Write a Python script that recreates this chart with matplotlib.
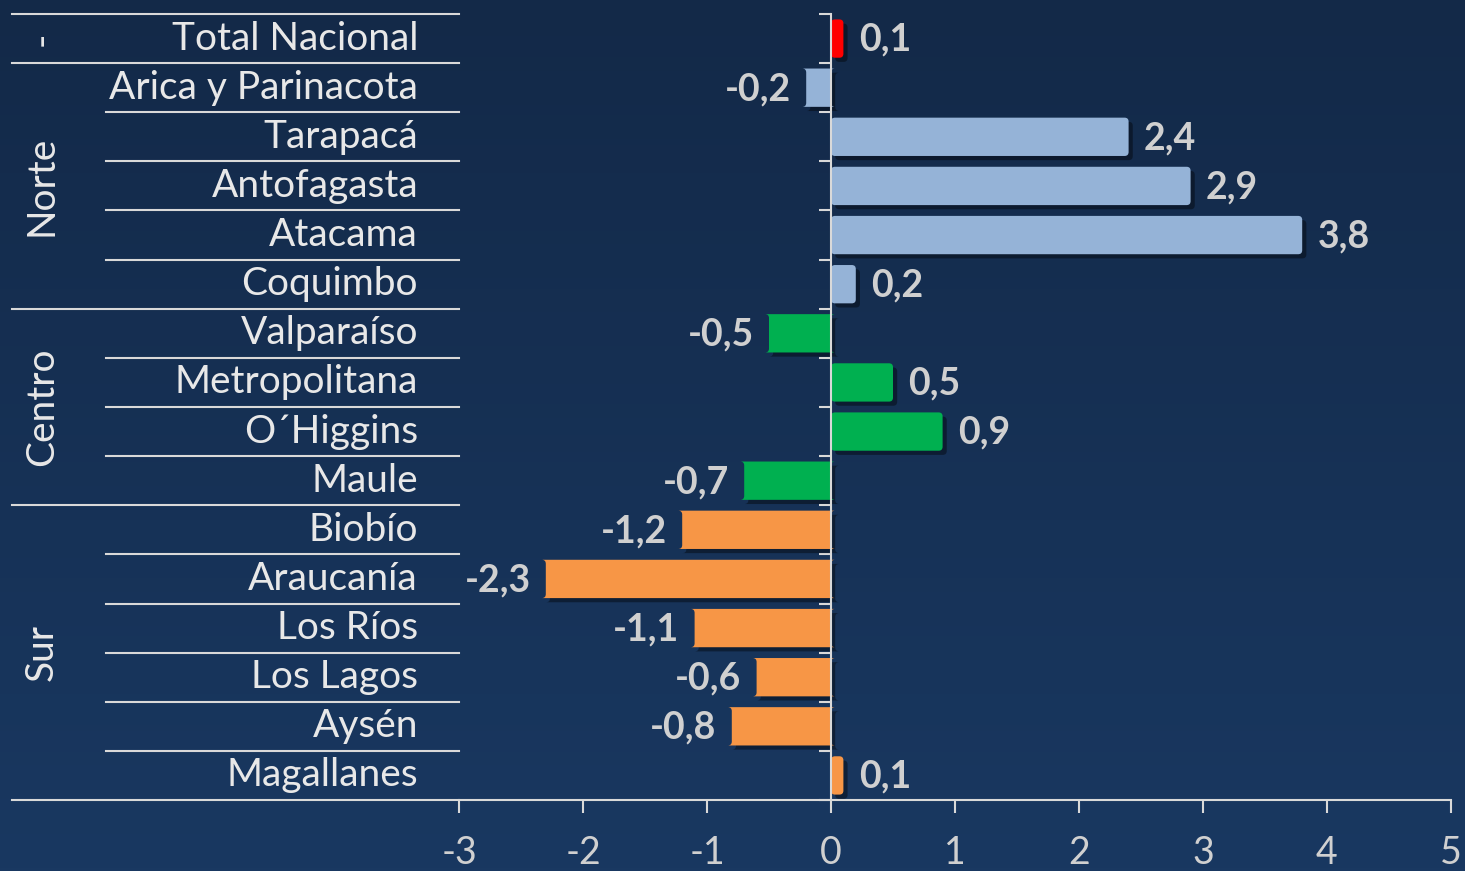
import numpy as np
import matplotlib.pyplot as plt
import matplotlib.patheffects as pe
from matplotlib.patches import FancyBboxPatch
from matplotlib.transforms import blended_transform_factory

plt.rcParams['font.family'] = ['Lato', 'DejaVu Sans']

# datos: variacion por region
regiones = ['Total Nacional', 'Arica y Parinacota', 'Tarapacá', 'Antofagasta',
            'Atacama', 'Coquimbo', 'Valparaíso', 'Metropolitana', 'O´Higgins',
            'Maule', 'Biobío', 'Araucanía', 'Los Ríos', 'Los Lagos', 'Aysén',
            'Magallanes']
valores = [0.1, -0.2, 2.4, 2.9, 3.8, 0.2, -0.5, 0.5, 0.9, -0.7,
           -1.2, -2.3, -1.1, -0.6, -0.8, 0.1]
zonas = ['-', 'Norte', 'Centro', 'Sur']
zona_n = [1, 5, 4, 6]
zona_color = ['#FF0000', '#95B3D7', '#00B050', '#F79646']
xticks = [-3, -2, -1, 0, 1, 2, 3, 4, 5]

W, H = 1465, 871
fig = plt.figure(figsize=(W / 100, H / 100), dpi=100)

# fondo degradado
bg = fig.add_axes([0, 0, 1, 1], zorder=-1)
grad = np.linspace(0, 1, 256).reshape(-1, 1)
top = np.array([19, 41, 72]) / 255
bot = np.array([25, 56, 97]) / 255
img = top + (bot - top) * grad[:, :, None]
bg.imshow(img, aspect='auto', extent=[0, 1, 0, 1])
bg.axis('off')

x0, x1, ytop, ybot = 459, 1451, 14, 800
ax = fig.add_axes([x0 / W, (H - ybot) / H, (x1 - x0) / W, (ybot - ytop) / H])
ax.patch.set_alpha(0)

colores = []
for z, n in enumerate(zona_n):
    colores += [zona_color[z]] * n

y = np.arange(len(regiones))
bars = ax.barh(y, valores, height=0.78, color=colores, zorder=3)

# esquinas redondeadas: se reemplaza cada barra por una caja redondeada
px_x = 8 / (x1 - x0)          # unidades de datos por pixel en x
px_y = 16 / (ybot - ytop)     # unidades de datos por pixel en y
for b in bars:
    b.set_visible(False)
    caja = FancyBboxPatch((b.get_x(), b.get_y()), b.get_width(), b.get_height(),
                          boxstyle='round,pad=0,rounding_size=%f' % (4 * px_x),
                          mutation_aspect=px_y / px_x,
                          facecolor=b.get_facecolor(), edgecolor='none', zorder=3)
    caja.set_path_effects([pe.SimplePatchShadow(offset=(3, -3), shadow_rgbFace='black', alpha=0.4),
                           pe.Normal()])
    ax.add_patch(caja)

for yi, v in zip(y, valores):
    txt = f'{v:.1f}'.replace('.', ',')
    if v >= 0:
        ax.annotate(txt, (v, yi), xytext=(11, -1), textcoords='offset points',
                    ha='left', va='center', fontsize=27, fontweight='bold', color='#D0D0D0')
    else:
        ax.annotate(txt, (v, yi), xytext=(-11, -1), textcoords='offset points',
                    ha='right', va='center', fontsize=27, fontweight='bold', color='#D0D0D0')

ax.set_xlim(-3, 5)
ax.set_ylim(15.5, -0.5)
ax.set_xticks(xticks)
ax.set_xticklabels([str(t) for t in xticks])
ax.set_yticks(np.arange(-0.5, 16, 1))
ax.set_yticklabels([])

lc = '#D9D9D9'
for s in ['top', 'right']:
    ax.spines[s].set_visible(False)
ax.spines['left'].set_position(('data', 0))
ax.spines['left'].set_color(lc)
ax.spines['left'].set_linewidth(1.5)
ax.spines['left'].set_zorder(4)
ax.spines['bottom'].set_color(lc)
ax.spines['bottom'].set_linewidth(1.5)
ax.tick_params(axis='y', direction='out', length=9, width=1.5, color=lc)
ax.tick_params(axis='x', direction='out', length=9, width=1.5, color=lc,
               labelcolor='#D0D0D0', labelsize=27, pad=16)

# tabla de categorias a la izquierda
tr = blended_transform_factory(ax.transAxes, ax.transData)
xa = (12 - x0) / (x1 - x0)
xb = (106 - x0) / (x1 - x0)
xl = (418 - x0) / (x1 - x0)
xg = (42 - x0) / (x1 - x0)

for yi, r in enumerate(regiones):
    ax.text(xl, yi, r, transform=tr, ha='right', va='center', fontsize=28,
            color='#E8E8E8', clip_on=False)

ax.plot([xa, 0], [-0.5, -0.5], transform=tr, color=lc, lw=1.5, clip_on=False)
ax.plot([xa, 0], [15.5, 15.5], transform=tr, color=lc, lw=1.5, clip_on=False)
inicio = 0
for z, n in enumerate(zona_n):
    fin = inicio + n
    for k in range(inicio + 1, fin):
        ax.plot([xb, 0], [k - 0.5, k - 0.5], transform=tr, color=lc, lw=1.5, clip_on=False)
    if fin < len(regiones):
        ax.plot([xa, 0], [fin - 0.5, fin - 0.5], transform=tr, color=lc, lw=1.5, clip_on=False)
    ax.text(xg, (inicio + fin - 1) / 2, zonas[z], transform=tr, rotation=90,
            ha='center', va='center', fontsize=28, color='#E8E8E8', clip_on=False)
    inicio = fin

fig.savefig('out.png', dpi=100)
